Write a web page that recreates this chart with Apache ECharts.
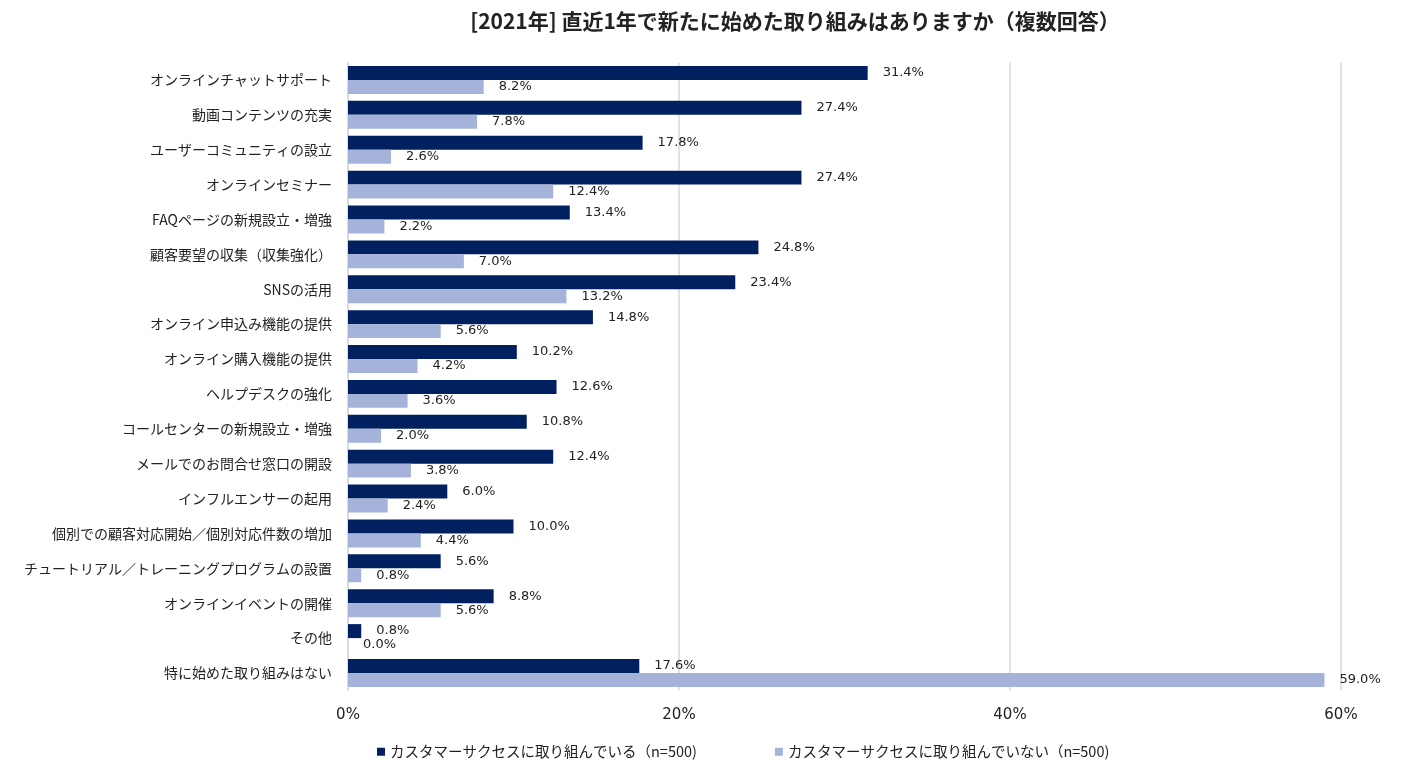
<!DOCTYPE html>
<html><head><meta charset="utf-8">
<script src="https://cdn.jsdelivr.net/npm/echarts@6/dist/echarts.min.js"></script>
<style>html,body{margin:0;padding:0;background:#fff}#c{width:1402px;height:767px}</style>
</head><body><div id="c"></div>
<script>
const titleText = '[2021年] 直近1年で新たに始めた取り組みはありますか（複数回答）';
const categories = ['オンラインチャットサポート','動画コンテンツの充実','ユーザーコミュニティの設立','オンラインセミナー','FAQページの新規設立・増強','顧客要望の収集（収集強化）','SNSの活用','オンライン申込み機能の提供','オンライン購入機能の提供','ヘルプデスクの強化','コールセンターの新規設立・増強','メールでのお問合せ窓口の開設','インフルエンサーの起用','個別での顧客対応開始／個別対応件数の増加','チュートリアル／トレーニングプログラムの設置','オンラインイベントの開催','その他','特に始めた取り組みはない'];
const seriesNames = ['カスタマーサクセスに取り組んでいる（n=500)','カスタマーサクセスに取り組んでいない（n=500)'];
const valuesYes = [31.4,27.4,17.8,27.4,13.4,24.8,23.4,14.8,10.2,12.6,10.8,12.4,6.0,10.0,5.6,8.8,0.8,17.6];
const valuesNo = [8.2,7.8,2.6,12.4,2.2,7.0,13.2,5.6,4.2,3.6,2.0,3.8,2.4,4.4,0.8,5.6,0.0,59.0];
const xTicks = [0,20,40,60];

const font = '"Noto Sans CJK JP", "Noto Sans", sans-serif';
const numFont = '"DejaVu Sans", "Noto Sans CJK JP", sans-serif';
const chart = echarts.init(document.getElementById('c'));
const lbl = {show:true, position:'right', distance:15, color:'#222', fontSize:13, fontFamily:numFont,
  formatter: p => p.value.toFixed(1) + '%'};
chart.setOption({
  animation:false,
  textStyle:{fontFamily:font},
  title:{text:titleText, left:790, top:6, textAlign:'center',
    textStyle:{fontSize:21, fontWeight:'bold', color:'#222', fontFamily:font}},
  legend:{bottom:3, left:372, itemGap:78, itemWidth:8, itemHeight:8, icon:'rect',
    textStyle:{fontSize:14.5, color:'#222', fontFamily:font}, data:seriesNames},
  grid:{left:348, right:61, top:62.5, bottom:76.6, containLabel:false},
  xAxis:{type:'value', min:xTicks[0], max:xTicks[xTicks.length-1], interval:20,
    axisLabel:{formatter:'{value}%', fontSize:15, color:'#222', margin:17, fontFamily:numFont},
    splitLine:{show:true, lineStyle:{color:'#d9d9d9', width:1.5}},
    axisLine:{show:false}, axisTick:{show:false}},
  yAxis:{type:'category', data:categories, inverse:true,
    axisLabel:{fontSize:14, color:'#222', margin:16, fontFamily:font},
    axisLine:{show:true, lineStyle:{color:'#d9d9d9', width:1.5}}, axisTick:{show:false}},
  series:[
    {name:seriesNames[0], type:'bar', data:valuesYes, barGap:'0%', barCategoryGap:'20%',
      itemStyle:{color:'#002060'}, label:lbl},
    {name:seriesNames[1], type:'bar', data:valuesNo, barGap:'0%', barCategoryGap:'20%',
      itemStyle:{color:'#a5b3da'}, label:lbl}
  ]
});
</script></body></html>
